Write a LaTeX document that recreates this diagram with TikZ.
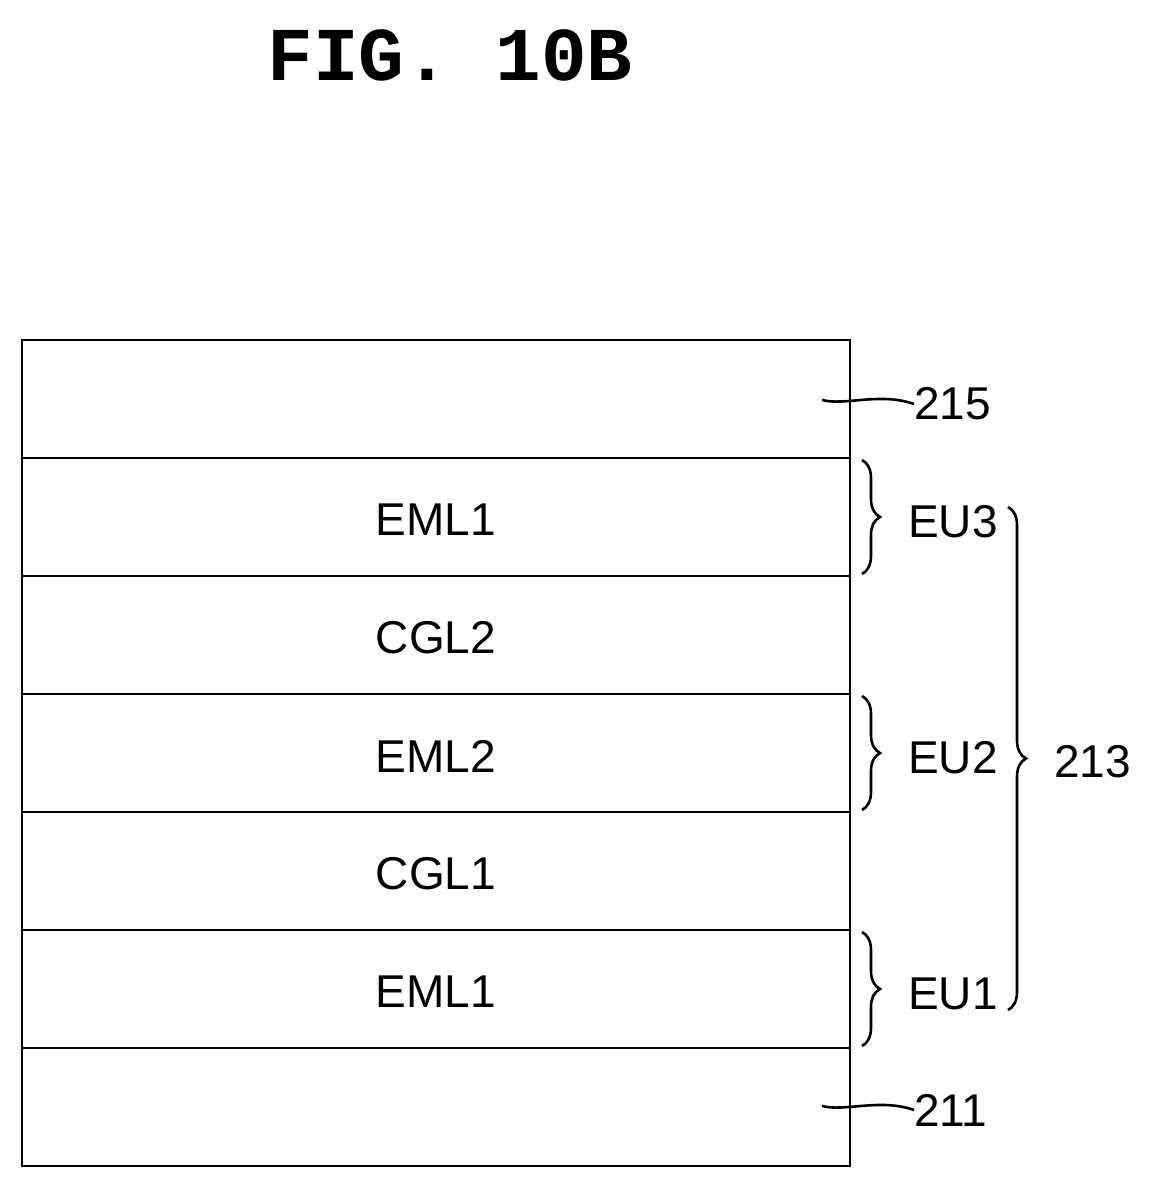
\documentclass[tikz,border=0pt]{standalone}
\usepackage{fontspec}
\setmainfont{Liberation Sans}
\newfontfamily\titlefont{Liberation Mono}
\usetikzlibrary{decorations.pathreplacing}
\begin{document}
\begin{tikzpicture}[x=1pt,y=-1pt,
  lbl/.style={font=\fontsize{46}{46}\selectfont, inner sep=0pt},
  brc/.style={decorate, decoration={brace, amplitude=18pt}, line width=2.6pt},
  ldr/.style={line width=2.6pt}]
\useasboundingbox (0,0) rectangle (1156,1189);
% Title
\node[font=\titlefont\bfseries\fontsize{76}{76}\selectfont] (title) at (450,55) {FIG. 10B};
% Layers
\foreach \i/\t in {0/,1/EML1,2/CGL2,3/EML2,4/CGL1,5/EML1,6/}{
  \draw[line width=2.6pt] (22,{340+118*\i}) rectangle (850,{458+118*\i});
  \node[lbl] (layer\i) at (436,{402+118*\i}) {\t};
}
% Leaders
\node[lbl, anchor=west] (n215) at (914,404) {215};
\draw[ldr] (822,400) .. controls (845,406) and (880,392) .. (n215.west);
\node[lbl, anchor=west] (n211) at (914,1110) {211};
\draw[ldr] (822,1106) .. controls (845,1112) and (880,1098) .. (n211.west);
% Braces
\draw[brc] (862,460) -- (862,574);
\node[lbl, anchor=west] (eu3) at (908,522) {EU3};
\draw[brc] (862,696) -- (862,810);
\node[lbl, anchor=west] (eu2) at (908,758) {EU2};
\draw[brc] (862,932) -- (862,1046);
\node[lbl, anchor=west] (eu1) at (908,994) {EU1};
\draw[brc] (1008,507) -- (1008,1010);
\node[lbl, anchor=west] (n213) at (1054,762) {213};
\end{tikzpicture}
\end{document}
